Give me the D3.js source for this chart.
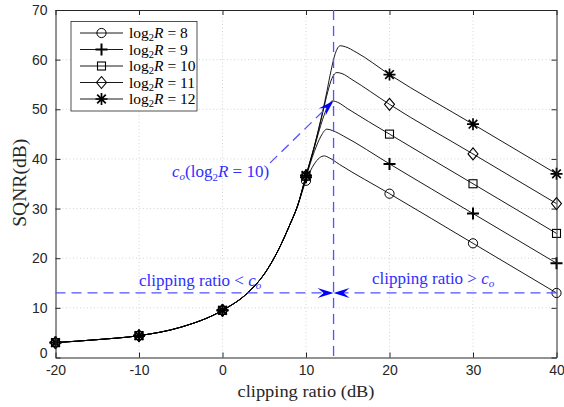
<!DOCTYPE html>
<html><head><meta charset="utf-8">
<script src="https://cdn.jsdelivr.net/npm/d3@7"></script>
<style>body{margin:0;background:#fff}</style>
</head><body>
<svg id="chart" width="564" height="407"></svg>
<script>
// Quantizer resolutions (bits)
const bitDepths = [8, 9, 10, 11, 12];
const markerNames = ["circle", "plus", "square", "diamond", "star"];

// Axis ticks
const xTicks = [-20, -10, 0, 10, 20, 30, 40];
const yTicks = [0, 10, 20, 30, 40, 50, 60, 70];

// Shared clipping-limited rise (dB)
const risingRatioDb = [-20, -15, -10, -5, 0, 3, 5, 6.7, 8, 9];
const risingSqnr    = [3.0, 3.6, 4.4, 6.1, 9.5, 13.0, 16.8, 21.7, 26.5, 30.6];

// Per-resolution tails (peak and quantization-limited decay)
const tailRatio8  = [10, 11, 11.6, 12.2, 12.8, 14, 20, 30, 40];
const tailSqnr8   = [35.6, 39.0, 40.2, 40.6, 40.2, 38.9, 33, 23, 13];
const tailRatio9  = [10, 11, 11.8, 12.5, 13.2, 14.5, 20, 30, 40];
const tailSqnr9   = [36.3, 41.5, 44.6, 46.0, 45.7, 44.6, 39, 29, 19];
const tailRatio10 = [10, 11, 12, 12.6, 13.2, 13.8, 15, 20, 30, 40];
const tailSqnr10  = [36.5, 42.3, 48.0, 50.6, 51.7, 51.4, 50.1, 45, 35, 25];
const tailRatio11 = [10, 11, 12, 12.6, 13.1, 13.7, 14.3, 15.5, 20, 30, 40];
const tailSqnr11  = [36.6, 42.5, 49.3, 53.5, 56.2, 57.4, 57.2, 56.0, 51, 41, 31];
const tailRatio12 = [10, 11, 12, 12.5, 13, 13.5, 14.1, 14.7, 16, 20, 30, 40];
const tailSqnr12  = [36.7, 42.6, 49.6, 53.6, 57.8, 61.2, 62.8, 62.6, 61.5, 57, 47, 37];

// Marker samples
const markerRatioDb = [-20, -10, 0, 10, 20, 30, 40];
const markerSqnr8  = [3.0, 4.4, 9.5, 35.6, 33, 23, 13];
const markerSqnr9  = [3.0, 4.4, 9.5, 36.3, 39, 29, 19];
const markerSqnr10 = [3.0, 4.4, 9.5, 36.5, 45, 35, 25];
const markerSqnr11 = [3.0, 4.4, 9.5, 36.6, 51, 41, 31];
const markerSqnr12 = [3.0, 4.4, 9.5, 36.7, 57, 47, 37];

// Optimal clipping ratio annotations
const coRatioDb = 13.3;
const coArrowSqnr = 13;
const coPeakSqnr = 51.7;
const coLabelStart = [5.7, 39.2];

const tails = [
  [tailRatio8, tailSqnr8], [tailRatio9, tailSqnr9], [tailRatio10, tailSqnr10],
  [tailRatio11, tailSqnr11], [tailRatio12, tailSqnr12]
];
const markerSets = [markerSqnr8, markerSqnr9, markerSqnr10, markerSqnr11, markerSqnr12];

const svg = d3.select("#chart");
const x = d3.scaleLinear().domain([-20, 40]).range([55.5, 556.5]);
const y = d3.scaleLinear().domain([0, 70]).range([357.5, 10]);
const axisColor = "#262626";
const blue = "#2f2fff";
const blueLine = "#5252ff";

// Grid
const grid = svg.append("g").attr("stroke", "#d4d4d4").attr("stroke-dasharray", "1,2.5").attr("stroke-width", 1);
xTicks.slice(1, -1).forEach(t => grid.append("line").attr("x1", x(t)).attr("x2", x(t)).attr("y1", y(0)).attr("y2", y(70)));
yTicks.slice(1, -1).forEach(t => grid.append("line").attr("x1", x(-20)).attr("x2", x(40)).attr("y1", y(t)).attr("y2", y(t)));

// Curves
const line = d3.line().x(d => x(d[0])).y(d => y(d[1])).curve(d3.curveMonotoneX);
tails.forEach(([tx, ty]) => {
  const pts = risingRatioDb.map((v, i) => [v, risingSqnr[i]]).concat(tx.map((v, i) => [v, ty[i]]));
  svg.append("path").attr("d", line(pts)).attr("fill", "none").attr("stroke", "#000").attr("stroke-width", 0.9);
});

// Markers
function drawMarker(g, kind, cx, cy) {
  const s = g.append("g").attr("transform", `translate(${cx},${cy})`).attr("fill", "none").attr("stroke", "#000");
  if (kind === "circle") s.append("circle").attr("r", 4.6).attr("stroke-width", 1);
  else if (kind === "plus") s.append("path").attr("d", "M-6,0H6M0,-6V6").attr("stroke-width", 2);
  else if (kind === "square") s.append("rect").attr("x", -4).attr("y", -4).attr("width", 8).attr("height", 8).attr("stroke-width", 1.1);
  else if (kind === "diamond") s.append("path").attr("d", "M0,-6L5,0L0,6L-5,0Z").attr("stroke-width", 1.1);
  else s.append("path").attr("d", "M0,-6V6M-6,0H6M-4.3,-4.3L4.3,4.3M-4.3,4.3L4.3,-4.3").attr("stroke-width", 1.7);
}
const mg = svg.append("g");
markerSets.forEach((vals, k) => {
  vals.forEach((v, i) => drawMarker(mg, markerNames[k], x(markerRatioDb[i]), y(v)));
});

// Axes (box with inward ticks)
const plain = d => String(d);
const axB = d3.axisBottom(x).tickValues(xTicks).tickSizeInner(-5).tickSizeOuter(0).tickPadding(8).tickFormat(plain);
const axL = d3.axisLeft(y).tickValues(yTicks).tickSizeInner(-5).tickSizeOuter(0).tickPadding(8).tickFormat(plain);
const axT = d3.axisTop(x).tickValues(xTicks).tickSizeInner(-5).tickSizeOuter(0).tickFormat("");
const axR = d3.axisRight(y).tickValues(yTicks).tickSizeInner(-5).tickSizeOuter(0).tickFormat("");
function styleAxis(g) {
  g.selectAll("path,line").attr("stroke", axisColor);
  g.selectAll("text").attr("fill", axisColor).style("font-family", "'Liberation Sans', Arial, sans-serif").style("font-size", "14px");
}
svg.append("g").attr("transform", `translate(0,${y(0)})`).call(axB).call(styleAxis);
const left = svg.append("g").attr("transform", `translate(${x(-20)},0)`).call(axL).call(styleAxis);
// lift the zero label slightly so it clears the x tick labels
left.selectAll(".tick").filter(d => d === 0).select("text").attr("y", -4);
svg.append("g").attr("transform", `translate(0,${y(70)})`).call(axT).call(styleAxis);
svg.append("g").attr("transform", `translate(${x(40)},0)`).call(axR).call(styleAxis);

// Axis titles
const serif = "'Liberation Serif', 'Times New Roman', serif";
svg.append("text").attr("x", (x(-20) + x(40)) / 2).attr("y", 397).attr("text-anchor", "middle")
  .attr("textLength", 137).attr("lengthAdjust", "spacingAndGlyphs")
  .style("font-family", serif).style("font-size", "17.5px").attr("fill", axisColor).text("clipping ratio (dB)");
svg.append("text").attr("transform", `translate(26,${(y(0) + y(70)) / 2 - 1}) rotate(-90)`).attr("text-anchor", "middle")
  .attr("textLength", 88).attr("lengthAdjust", "spacingAndGlyphs")
  .style("font-family", serif).style("font-size", "18px").attr("fill", axisColor).text("SQNR(dB)");

// Annotations: dashed reference lines and arrows
function arrow(x1, y1, x2, y2) {
  const dx = x2 - x1, dy = y2 - y1, len = Math.hypot(dx, dy);
  const ux = dx / len, uy = dy / len, nx = -uy, ny = ux;
  const L = 16, W = 5, notch = 10;
  const bx = x2 - ux * notch, by = y2 - uy * notch;
  svg.append("line").attr("x1", x1).attr("y1", y1).attr("x2", bx).attr("y2", by)
    .attr("stroke", blueLine).attr("stroke-width", 1.3).attr("stroke-dasharray", "10,6");
  const p = [[x2, y2], [x2 - ux * L + nx * W, y2 - uy * L + ny * W], [bx, by], [x2 - ux * L - nx * W, y2 - uy * L - ny * W]];
  svg.append("path").attr("d", "M" + p.map(q => q.join(",")).join("L") + "Z").attr("fill", "#0000ff").attr("stroke", "none");
}
svg.append("line").attr("x1", x(coRatioDb)).attr("x2", x(coRatioDb)).attr("y1", y(70)).attr("y2", y(0))
  .attr("stroke", blueLine).attr("stroke-width", 1.3).attr("stroke-dasharray", "10,6");
arrow(x(-20), y(coArrowSqnr), x(coRatioDb), y(coArrowSqnr));
arrow(x(40), y(coArrowSqnr), x(coRatioDb), y(coArrowSqnr));
arrow(x(coLabelStart[0]), y(coLabelStart[1]), x(coRatioDb), y(coPeakSqnr));

function coLabel(t) {
  t.append("tspan").style("font-style", "italic").text("c");
  t.append("tspan").attr("dy", 3).style("font-size", "11px").style("font-style", "italic").text("o");
  return t;
}
const tl = svg.append("text").attr("x", 139).attr("y", 286).style("font-family", serif).style("font-size", "17px").attr("fill", blue);
tl.append("tspan").text("clipping ratio < ");
coLabel(tl);
const tr = svg.append("text").attr("x", 372).attr("y", 284).style("font-family", serif).style("font-size", "17px").attr("fill", blue);
tr.append("tspan").text("clipping ratio > ");
coLabel(tr);
const tc = svg.append("text").attr("x", 172).attr("y", 177).style("font-family", serif).style("font-size", "17px").attr("fill", blue);
coLabel(tc);
tc.append("tspan").attr("dy", -3).text("(log");
tc.append("tspan").attr("dy", 4).style("font-size", "11px").text("2");
tc.append("tspan").attr("dy", -4).style("font-style", "italic").text("R");
tc.append("tspan").text(" = 10)");

// Legend
const lg = svg.append("g");
lg.append("rect").attr("x", 71).attr("y", 21.5).attr("width", 126).attr("height", 89.5)
  .attr("fill", "#fff").attr("stroke", "#262626").attr("stroke-width", 0.8);
bitDepths.forEach((b, i) => {
  const ry = 33 + i * 16.5;
  lg.append("line").attr("x1", 80).attr("x2", 123).attr("y1", ry).attr("y2", ry).attr("stroke", "#000").attr("stroke-width", 0.9);
  drawMarker(lg, markerNames[i], 101.5, ry);
  const t = lg.append("text").attr("x", 129).attr("y", ry + 5).style("font-family", serif).style("font-size", "15.5px").attr("fill", "#000");
  t.append("tspan").text("log");
  t.append("tspan").attr("dy", 3).style("font-size", "10.5px").text("2");
  t.append("tspan").attr("dy", -3).style("font-style", "italic").text("R");
  t.append("tspan").text(" = " + b);
});
</script>
</body></html>
